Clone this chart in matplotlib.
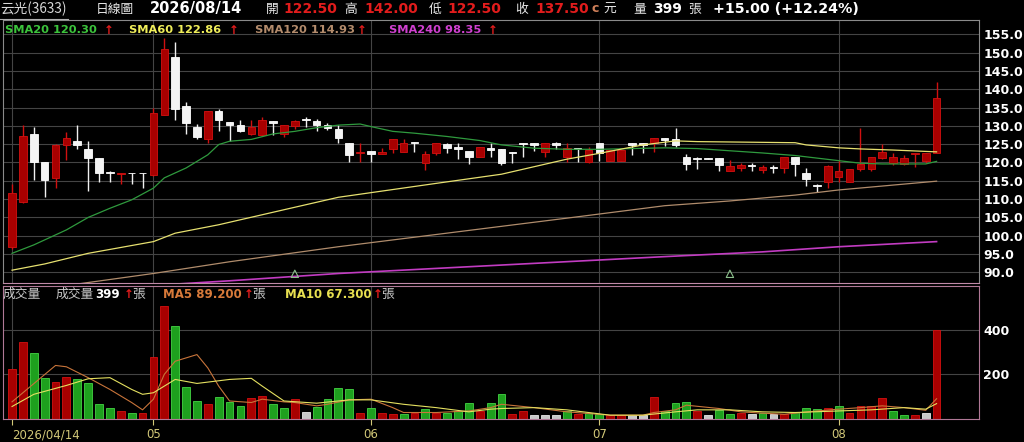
import matplotlib
matplotlib.use('Agg')
import matplotlib.pyplot as plt
import matplotlib.transforms as mtransforms
from matplotlib.lines import Line2D
import numpy as np

plt.rcParams['font.family'] = ['DejaVu Sans', 'Noto Sans CJK TC']

# ---- daily candles (index 0 = 2026/04/14, index 85 = 2026/08/14) ----
opens = [96.8, 109.2, 127.8, 120.1, 115.7, 124.8, 125.8, 123.7, 121.2, 117.3,
         116.9, 117.2, 117.2, 116.7, 133.1, 148.8, 135.4, 129.7, 126.3, 134.0,
         131.1, 130.1, 127.9, 127.6, 131.3, 127.8, 129.9, 131.7, 131.3, 130.1,
         129.2, 125.2, 122.5, 123.0, 122.2, 123.6, 123.0, 125.6, 119.8, 122.5,
         125.0, 124.2, 123.0, 121.6, 123.9, 123.7, 123.0, 125.2, 125.2, 123.0,
         125.4, 121.6, 123.9, 120.2, 125.2, 120.4, 120.4, 125.2, 125.2, 125.2,
         126.6, 126.3, 121.4, 121.1, 121.1, 121.1, 117.7, 118.4, 119.3, 117.9,
         118.8, 118.4, 121.6, 117.0, 113.9, 114.8, 116.1, 114.8, 118.1, 118.1,
         121.1, 119.8, 119.6, 122.3, 120.5, 122.5]
highs = [114.2, 130.1, 129.7, 120.1, 125.0, 128.3, 130.1, 125.8, 121.2, 117.8,
         117.1, 117.2, 117.2, 134.9, 154.0, 152.9, 136.5, 130.4, 134.0, 134.5,
         131.1, 131.7, 131.7, 132.4, 131.3, 130.1, 131.7, 132.5, 131.9, 130.8,
         130.2, 125.2, 125.2, 123.0, 123.9, 126.3, 126.3, 125.6, 123.1, 125.2,
         125.2, 125.2, 123.0, 124.3, 125.4, 123.7, 123.0, 125.2, 125.2, 125.2,
         125.7, 125.2, 123.9, 124.3, 125.2, 123.4, 123.4, 125.2, 125.2, 126.6,
         126.6, 129.3, 122.3, 121.6, 121.1, 121.1, 120.7, 119.8, 119.8, 119.3,
         119.3, 121.6, 121.6, 118.4, 114.1, 119.3, 120.7, 118.1, 129.3, 121.4,
         125.0, 122.5, 122.0, 122.7, 122.5, 142.0]
lows = [96.5, 109.0, 115.3, 110.7, 113.0, 120.8, 123.7, 112.1, 114.7, 114.7,
        114.1, 114.1, 113.0, 116.2, 133.0, 131.6, 127.8, 126.4, 125.3, 128.5,
        125.8, 128.3, 127.6, 127.2, 127.6, 127.0, 129.2, 129.7, 128.5, 129.0,
        125.2, 120.0, 120.0, 120.0, 122.2, 122.5, 123.0, 123.0, 118.0, 122.0,
        122.5, 120.9, 119.6, 121.6, 121.6, 119.3, 119.9, 121.6, 123.2, 121.6,
        123.6, 120.0, 120.0, 119.8, 120.4, 120.4, 120.4, 122.0, 122.5, 123.0,
        124.6, 124.1, 118.0, 118.1, 121.0, 117.7, 117.7, 117.8, 117.7, 117.0,
        117.0, 117.0, 116.4, 113.7, 112.0, 112.9, 114.8, 114.8, 117.7, 117.8,
        120.9, 119.3, 119.3, 118.7, 119.9, 122.5]
closes = [111.6, 127.2, 120.0, 115.2, 124.9, 126.7, 124.8, 121.2, 117.1, 117.0,
          117.1, 117.0, 117.0, 133.4, 150.9, 134.7, 130.8, 127.0, 134.0, 131.7,
          130.2, 128.5, 129.7, 131.7, 130.8, 130.1, 131.3, 131.6, 130.1, 129.5,
          126.6, 122.0, 123.0, 122.3, 122.8, 126.3, 125.2, 125.2, 122.2, 125.2,
          123.9, 123.7, 121.6, 124.3, 123.4, 119.8, 122.5, 125.0, 124.9, 125.2,
          124.9, 123.9, 123.6, 123.4, 122.7, 123.4, 123.4, 124.8, 124.8, 126.6,
          126.1, 124.7, 119.6, 120.9, 121.0, 119.3, 119.0, 119.3, 119.0, 118.8,
          118.6, 121.6, 119.6, 115.6, 113.6, 119.0, 117.8, 118.1, 119.5, 121.4,
          122.8, 121.6, 121.1, 122.7, 122.5, 137.5]

# volume (張) and sign of day change (1 up, -1 down, 0 flat)
volumes = [224, 346, 293, 181, 164, 187, 176, 158, 67, 46,
           36, 24, 24, 276, 509, 418, 143, 81, 67, 96,
           73, 57, 91, 101, 64, 49, 87, 31, 51, 87,
           139, 131, 24, 49, 27, 21, 19, 27, 42, 24,
           24, 34, 72, 34, 72, 112, 22, 33, 15, 15,
           15, 34, 19, 24, 19, 15, 15, 15, 15, 97,
           34, 69, 75, 33, 15, 39, 22, 24, 19, 24,
           19, 19, 31, 46, 42, 46, 57, 24, 57, 57,
           91, 33, 15, 15, 27, 399]
vol_dir = [1, 1, -1, -1, 1, 1, -1, -1, -1, -1,
           1, -1, 1, 1, 1, -1, -1, -1, 1, -1,
           -1, -1, 1, 1, -1, -1, 1, 0, -1, -1,
           -1, -1, 1, -1, 1, 1, -1, 1, -1, 1,
           -1, -1, -1, 1, -1, -1, 1, 1, 0, 0,
           0, -1, 1, -1, -1, 1, 1, 0, 0, 1,
           -1, -1, -1, 1, 0, -1, -1, 1, 0, -1,
           0, 1, -1, -1, -1, 1, -1, 1, 1, 1,
           1, -1, -1, 1, 0, 1]

# moving averages (index, value)
sma20_idx = [0, 2, 5, 7, 9, 11, 13, 14, 16, 18, 19, 20, 22, 24, 26, 28, 30, 32, 33,
             35, 37, 40, 43, 45, 48, 51, 54, 57, 60, 63, 66, 69, 72, 74, 76, 78, 80, 84, 85]
sma20_val = [95.2, 97.5, 101.6, 105.0, 107.5, 109.8, 113.0, 115.8, 118.5, 122.1, 124.9,
             125.8, 126.3, 127.8, 128.5, 129.5, 130.2, 130.5, 129.8, 128.5, 128.0, 127.1,
             126.0, 124.8, 123.9, 123.6, 123.6, 123.8, 124.0, 123.8, 123.2, 122.6, 121.9,
             121.2, 120.5, 119.8, 119.6, 119.6, 120.3]
sma60_idx = [0, 3, 7, 13, 15, 19, 25, 30, 39, 45, 51, 54, 58, 61, 63, 72, 73, 76, 78, 81, 85]
sma60_val = [90.6, 92.3, 95.2, 98.4, 100.7, 103.0, 107.1, 110.5, 114.3, 116.8, 120.9,
             122.5, 124.8, 125.9, 125.7, 125.4, 124.8, 124.0, 123.7, 123.4, 122.9]
sma120_idx = [4, 13, 20, 30, 51, 60, 66, 72, 76, 85]
sma120_val = [86.0, 89.7, 92.9, 97.0, 104.8, 108.2, 109.5, 111.1, 112.5, 114.9]
sma240_idx = [15, 20, 30, 45, 60, 69, 76, 85]
sma240_val = [86.8, 87.7, 89.7, 92.0, 94.3, 95.6, 97.0, 98.4]

vma5_idx = [0, 4, 5, 7, 9, 11, 12, 13, 14, 15, 17, 18, 19, 20, 22, 23, 25, 26, 28, 29,
            31, 33, 35, 36, 39, 42, 44, 45, 48, 51, 55, 58, 59, 61, 62, 65, 67, 69, 71,
            74, 76, 78, 80, 82, 84, 85]
vma5_val = [75, 239, 233, 184, 131, 72, 39, 87, 199, 258, 288, 228, 146, 79, 72, 87, 75,
            72, 57, 64, 84, 87, 49, 27, 27, 34, 49, 64, 49, 30, 15, 15, 27, 39, 60, 45,
            30, 24, 19, 34, 42, 49, 57, 49, 37, 89]
vma10_idx = [0, 2, 5, 7, 9, 11, 12, 13, 15, 17, 20, 22, 23, 25, 28, 31, 33, 36, 39, 42,
             44, 45, 48, 51, 55, 58, 61, 63, 66, 69, 72, 76, 79, 82, 84, 85]
vma10_val = [54, 109, 149, 179, 184, 131, 109, 116, 176, 158, 176, 181, 146, 79, 69, 84,
             84, 64, 49, 30, 42, 45, 49, 39, 15, 15, 30, 39, 39, 30, 27, 34, 39, 49, 42, 67]

signal_idx = [26, 66]
month_idx = [0, 13, 33, 54, 76]
month_labels = ['2026/04/14', '05', '06', '07', '08']
price_ticks = np.arange(90, 156, 5)

W, H = 1024, 442
RED = '#e21c1c'
GRID = '#444444'


def fx(x):
    return x / W


def fy(y):
    return 1 - y / H


def put(x, y, s, color, size=9, bold=False, cjk=False):
    fam = ['Noto Sans CJK TC', 'DejaVu Sans'] if cjk else ['DejaVu Sans', 'Noto Sans CJK TC']
    fig.text(fx(x), fy(y), s, color=color, fontsize=size, va='center', ha='left',
             fontweight='bold' if bold else 'normal', family=fam)


fig = plt.figure(figsize=(W / 100, H / 100), dpi=100, facecolor='black')
ax = fig.add_axes([fx(3), fy(283), fx(976), 263 / H], facecolor='black')
axv = fig.add_axes([fx(3), fy(418.5), fx(976), 132.5 / H], facecolor='black')

n = len(closes)
idx = np.arange(n)
o = np.array(opens)
c = np.array(closes)
up = c > o

# ---- price panel ----
ax.vlines(idx, lows, highs, colors=np.where(up, '#d01010', '#f0f0f0'), lw=1, zorder=2)
ax.bar(idx, np.maximum(np.abs(c - o), 0.15), bottom=np.minimum(o, c), width=0.7,
       color=np.where(up, '#a80000', '#f4f4f4'), edgecolor=np.where(up, '#d41010', '#ffffff'),
       lw=0.6, zorder=2)
ax.plot(sma20_idx, sma20_val, color='#2f9a3e', lw=0.9, zorder=3)
ax.plot(sma60_idx, sma60_val, color='#e6e070', lw=0.9, zorder=3)
ax.plot(sma120_idx, sma120_val, color='#b08c6c', lw=0.9, zorder=3)
ax.plot(sma240_idx, sma240_val, color='#c23cc2', lw=1.2, zorder=3)

trans = mtransforms.blended_transform_factory(ax.transData, ax.transAxes)
ax.scatter(signal_idx, [0.035] * len(signal_idx), transform=trans, marker='^', s=28,
           facecolors='none', edgecolors='#8cc08c', lw=0.8, zorder=4)

ax.set_xlim(-0.83, 88.9)
ax.set_ylim(87.1, 158.9)
ax.set_yticks(price_ticks)
ax.set_yticklabels([f'{v:.1f}' for v in price_ticks])
ax.yaxis.tick_right()
ax.tick_params(axis='y', length=0, pad=3, labelcolor='white', labelsize=9)
for t in ax.get_yticklabels():
    t.set_fontweight('bold')
ax.set_xticks(month_idx)
ax.tick_params(axis='x', length=0, labelbottom=False)
ax.grid(True, color=GRID, lw=0.8)
ax.set_axisbelow(True)
for side in ['top', 'left', 'right']:
    ax.spines[side].set_color('#8a8a8a')
ax.spines['bottom'].set_color('#c08aa8')

# ---- volume panel ----
vcol = {1: '#a80000', -1: '#1ea01e', 0: '#c8c8c8'}
vedge = {1: '#d41010', -1: '#44d444', 0: '#e8e8e8'}
axv.bar(idx, volumes, width=0.72, color=[vcol[d] for d in vol_dir],
        edgecolor=[vedge[d] for d in vol_dir], lw=0.6, zorder=2)
axv.plot(vma5_idx, vma5_val, color='#c8743a', lw=0.8, zorder=3)
axv.plot(vma10_idx, vma10_val, color='#e4e060', lw=0.8, zorder=3)
axv.set_xlim(-0.83, 88.9)
axv.set_ylim(0, 597)
axv.set_yticks([200, 400])
axv.yaxis.tick_right()
axv.tick_params(axis='y', length=0, pad=3, labelcolor='white', labelsize=9)
for t in axv.get_yticklabels():
    t.set_fontweight('bold')
axv.set_xticks(month_idx)
axv.set_xticklabels(month_labels)
axv.tick_params(axis='x', length=4, width=0.8, color='#d2c878', labelcolor='#d2c878',
                labelsize=8.5, pad=3)
axv.get_xticklabels()[0].set_horizontalalignment('left')
axv.grid(True, color=GRID, lw=0.8)
axv.set_axisbelow(True)
for sp in axv.spines.values():
    sp.set_color('#b07896')

# ---- header ----
put(0, 9, '云光(3633)', '#d8d8d8', 9.8, cjk=True)
fig.add_artist(Line2D([fx(0), fx(68)], [fy(19), fy(19)], color='#b0b0b0', lw=0.8))
put(96, 9, '日線圖', '#e8e8e8', 9.2, cjk=True)
put(150, 9, '2026/08/14', 'white', 10.5, bold=True)
put(266, 9, '開', '#e8e8e8', 9.2, cjk=True)
put(283, 9, '122.50', RED, 10, bold=True)
put(344, 9, '高', '#e8e8e8', 9.2, cjk=True)
put(364, 9, '142.00', RED, 10, bold=True)
put(429, 9, '低', '#e8e8e8', 9.2, cjk=True)
put(447, 9, '122.50', RED, 10, bold=True)
put(515, 9, '收', '#e8e8e8', 9.2, cjk=True)
put(535, 9, '137.50', RED, 10, bold=True)
put(592, 9, 'c', '#d0805a', 9, bold=True)
put(603, 9, '元', '#e8e8e8', 9.2, cjk=True)
put(633, 9, '量', '#e8e8e8', 9.2, cjk=True)
put(653, 9, '399', 'white', 10, bold=True)
put(688, 9, '張', '#e8e8e8', 9.2, cjk=True)
put(713, 9, '+15.00 (+12.24%)', 'white', 10.3, bold=True)

# ---- price legend ----
put(5, 30, 'SMA20 120.30', '#3cc43c', 8.2, bold=True)
put(104, 30, '↑', RED, 8.5, bold=True)
put(129, 30, 'SMA60 122.86', '#f0ee5a', 8.2, bold=True)
put(229, 30, '↑', RED, 8.5, bold=True)
put(255, 30, 'SMA120 114.93', '#b48c6c', 8.2, bold=True)
put(357, 30, '↑', RED, 8.5, bold=True)
put(389, 30, 'SMA240 98.35', '#d040d0', 8.2, bold=True)
put(488, 30, '↑', RED, 8.5, bold=True)

# ---- volume legend ----
put(3, 294, '成交量', '#c8c8c8', 9.2, cjk=True)
put(56, 294, '成交量', '#c8c8c8', 9.2, cjk=True)
put(95, 294, '399', 'white', 8.5, bold=True)
put(124, 294, '↑', RED, 8.5, bold=True)
put(132, 294, '張', '#c8c8c8', 9.2, cjk=True)
put(163, 294, 'MA5 89.200', '#d87a3a', 8.5, bold=True)
put(244, 294, '↑', RED, 8.5, bold=True)
put(252, 294, '張', '#c8c8c8', 9.2, cjk=True)
put(285, 294, 'MA10 67.300', '#e8e050', 8.5, bold=True)
put(373, 294, '↑', RED, 8.5, bold=True)
put(381, 294, '張', '#c8c8c8', 9.2, cjk=True)

fig.savefig('out.png', dpi=100, facecolor='black')
